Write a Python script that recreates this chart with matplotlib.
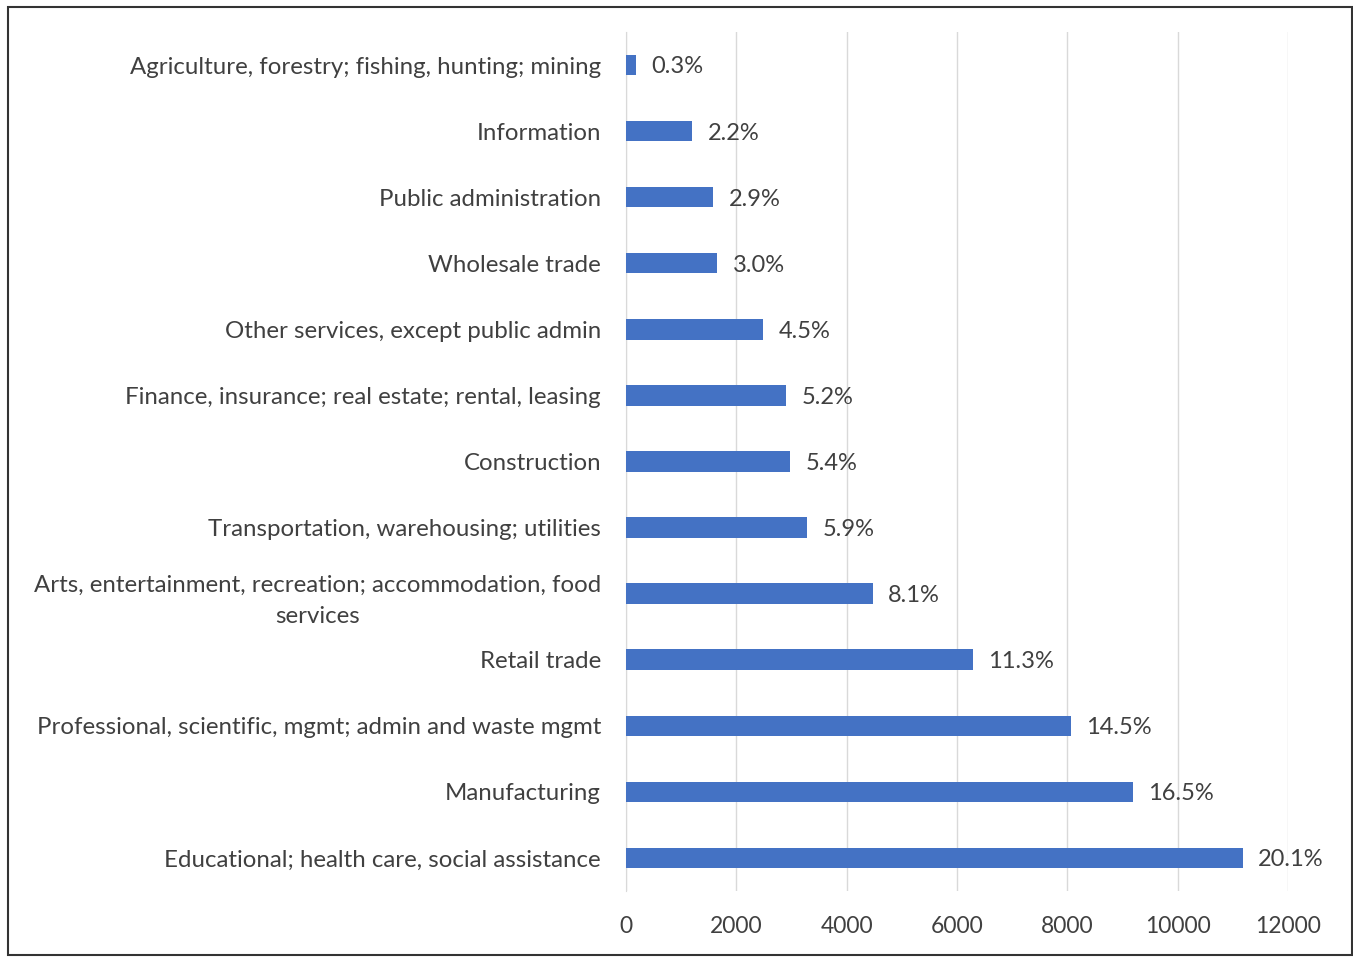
import matplotlib.pyplot as plt
from matplotlib.patches import Rectangle

# Daten (von oben nach unten)
industries = [
    "Agriculture, forestry; fishing, hunting; mining",
    "Information",
    "Public administration",
    "Wholesale trade",
    "Other services, except public admin",
    "Finance, insurance; real estate; rental, leasing",
    "Construction",
    "Transportation, warehousing; utilities",
    "Arts, entertainment, recreation; accommodation, food\nservices",
    "Retail trade",
    "Professional, scientific, mgmt; admin and waste mgmt",
    "Manufacturing",
    "Educational; health care, social assistance",
]
counts = [180, 1200, 1580, 1650, 2480, 2900, 2970, 3280, 4475, 6290, 8060, 9185, 11180]
shares = ["0.3%", "2.2%", "2.9%", "3.0%", "4.5%", "5.2%", "5.4%", "5.9%",
          "8.1%", "11.3%", "14.5%", "16.5%", "20.1%"]

plt.rcParams['font.family'] = ['Lato', 'DejaVu Sans']
text_color = '#404040'

fig = plt.figure(figsize=(13.53, 9.57), dpi=100)
ax = fig.add_axes([0.4627, 0.069, 0.952 - 0.4627, 0.8976])

y = list(range(len(industries)))
ax.barh(y, counts, height=0.31, color='#4472C4', zorder=3)

# Prozentwerte rechts neben den Balken
for yi, c, s in zip(y, counts, shares):
    ax.text(c + 280, yi + 0.03, s, va='center', ha='left', fontsize=17, color=text_color)

ax.set_ylim(len(industries) - 0.5, -0.5)
ax.set_xlim(0, 12000)
ax.set_xticks(range(0, 12001, 2000))
ax.set_yticks(y)
ax.set_yticklabels(industries, fontsize=17.3, color=text_color, ha='right',
                   multialignment='center', linespacing=1.6)
ax.tick_params(axis='y', length=0, pad=18)
ax.tick_params(axis='x', length=0, labelsize=16.5, labelcolor=text_color, pad=18)

ax.grid(axis='x', color='#d9d9d9', linewidth=1, zorder=0)
for side in ['top', 'right', 'bottom']:
    ax.spines[side].set_visible(False)
ax.spines['left'].set_color('#d9d9d9')

# Rahmen um das Bild
fig.patches.append(Rectangle((0.006, 0.002), 0.993, 0.991, transform=fig.transFigure,
                             fill=False, edgecolor='#333333', linewidth=1.5))

plt.savefig("out.png", dpi=100)
